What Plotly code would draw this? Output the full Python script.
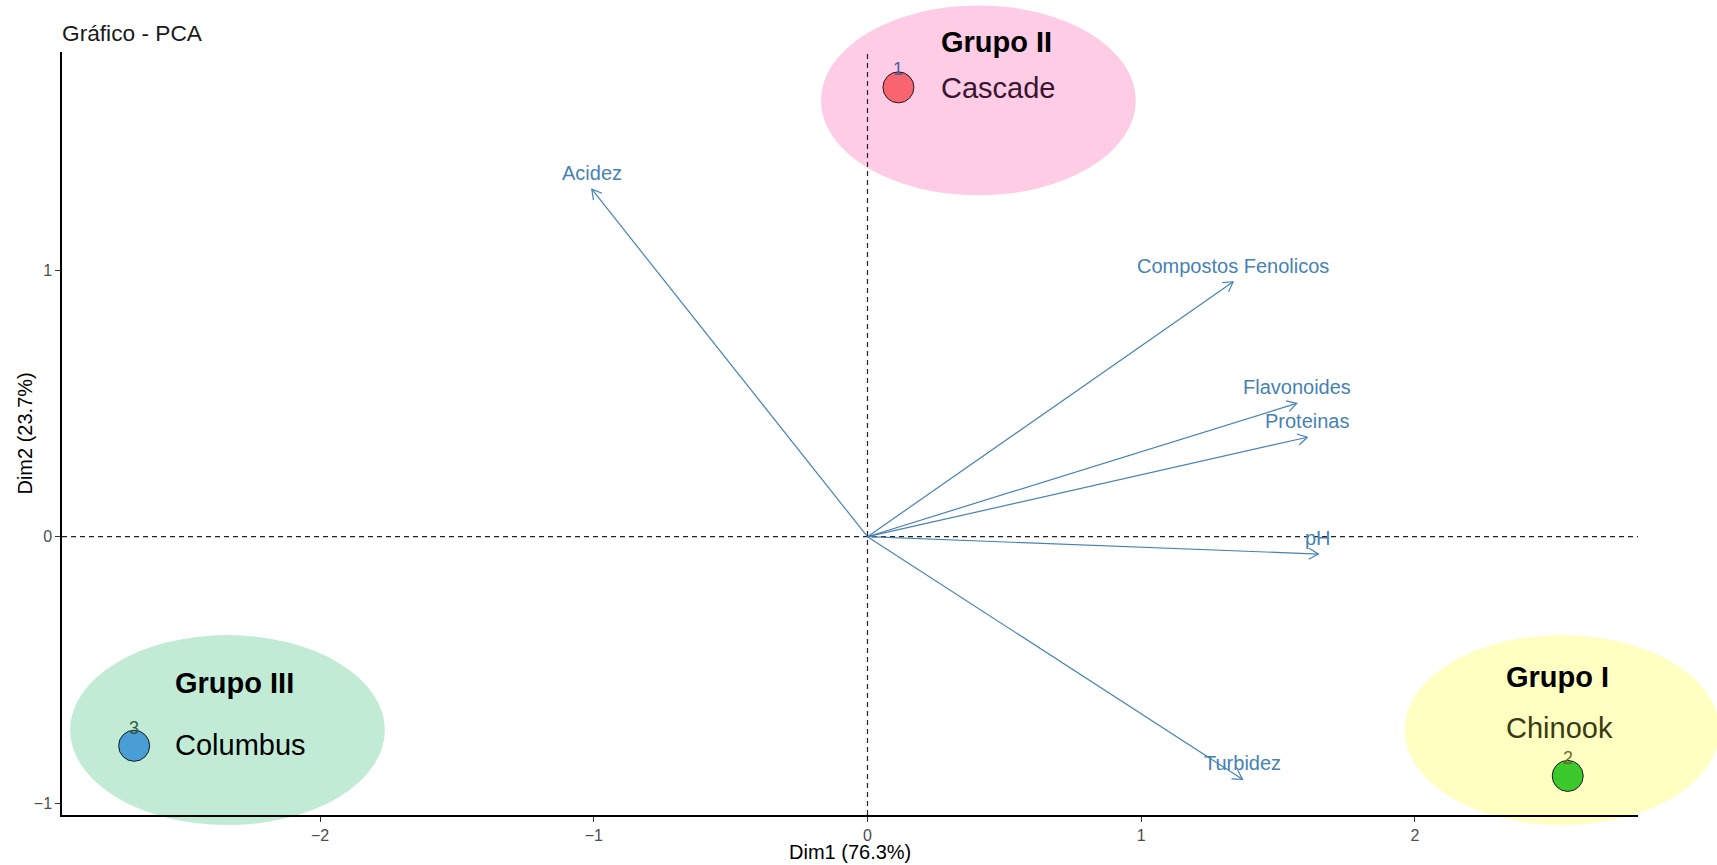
import math
import plotly.graph_objects as go

# --- PCA variable loadings (arrows) ---
variables = ["Acidez", "Compostos Fenolicos", "Flavonoides", "Proteinas", "pH", "Turbidez"]
var_dim1 = [-1.007, 1.336, 1.568, 1.607, 1.647, 1.370]
var_dim2 = [1.303, 0.956, 0.500, 0.373, -0.065, -0.910]

# --- individuals (scores) ---
ind_ids = ["1", "2", "3"]
ind_names = ["Cascade", "Chinook", "Columbus"]
ind_groups = ["Grupo II", "Grupo I", "Grupo III"]
ind_dim1 = [0.113, 2.558, -2.679]
ind_dim2 = [1.685, -0.897, -0.784]

xtick_vals = [-2, -1, 0, 1, 2]
ytick_vals = [-1, 0, 1]

# --- styling ---
FONT = "Liberation Sans, Arial, sans-serif"
ARROW_COLOR = "#4682B4"
ind_fill = ["#F8646F", "#3CC92C", "#4A9ED6"]
ind_label_color = ["#4a5fa0", "#6e6a30", "#2f5a45"]
name_color = ["#3a1530", "#3a3a10", "#000000"]
halo_color = ["#FFCCE5", "#FFFFC2", "#C2EBD6"]
# halo centre (data units) and label anchor (data units) per group
halo_center = [(0.405, 1.636), (2.537, -0.725), (-2.338, -0.725)]
halo_half = (0.575, 0.356)
group_anchor = [(0.260, 1.856, 1.6815), (2.325, -0.527, -0.716), (-2.538, -0.5497, -0.781)]

W, H = 1717, 865
M = dict(l=62, r=79, t=52, b=50)
X_RANGE = [-2.9425, 2.8147]
Y_RANGE = [-1.0436, 1.8176]
PW = W - M["l"] - M["r"]
PH = H - M["t"] - M["b"]
SX = PW / (X_RANGE[1] - X_RANGE[0])
SY = PH / (Y_RANGE[1] - Y_RANGE[0])


def px(x):
    return (x - X_RANGE[0]) / (X_RANGE[1] - X_RANGE[0])


def py(y):
    return (y - Y_RANGE[0]) / (Y_RANGE[1] - Y_RANGE[0])


fig = go.Figure()

# arrows from the origin with open chevron heads
head_len, head_ang = 11.0, math.radians(30)
for name, x, y in zip(variables, var_dim1, var_dim2):
    ang = math.atan2(y * SY, x * SX)
    xs, ys = [0, x], [0, y]
    hx, hy = [], []
    for s in (1, -1):
        a = ang + math.pi + s * head_ang
        hx.append(x + head_len * math.cos(a) / SX)
        hy.append(y + head_len * math.sin(a) / SY)
    fig.add_trace(go.Scatter(x=xs, y=ys, mode="lines",
                             line=dict(color=ARROW_COLOR, width=1.2),
                             hoverinfo="skip", showlegend=False))
    fig.add_trace(go.Scatter(x=[hx[0], x, hx[1]], y=[hy[0], y, hy[1]], mode="lines",
                             line=dict(color=ARROW_COLOR, width=1.2),
                             hoverinfo="skip", showlegend=False))
    fig.add_annotation(x=x, y=y, xref="x", yref="y", text=name, showarrow=False,
                       yshift=16, font=dict(family=FONT, size=20, color=ARROW_COLOR))

# individuals
fig.add_trace(go.Scatter(x=ind_dim1, y=ind_dim2, mode="markers",
                         marker=dict(size=31, color=ind_fill,
                                     line=dict(color="#1a1a1a", width=1)),
                         text=ind_names, hoverinfo="text", showlegend=False))
for i, (x, y) in enumerate(zip(ind_dim1, ind_dim2)):
    fig.add_annotation(x=x, y=y, xref="x", yref="y", text=ind_ids[i], showarrow=False,
                       yshift=18, font=dict(family=FONT, size=18, color=ind_label_color[i]))

# group halos and labels
shapes = []
for i in range(3):
    cx, cy = halo_center[i]
    shapes.append(dict(type="circle", xref="paper", yref="paper", layer="below",
                       x0=px(cx - halo_half[0]), x1=px(cx + halo_half[0]),
                       y0=py(cy - halo_half[1]), y1=py(cy + halo_half[1]),
                       fillcolor=halo_color[i], line=dict(width=0)))
    ax_, gy, ny = group_anchor[i]
    fig.add_annotation(x=px(ax_), y=py(gy), xref="paper", yref="paper",
                       xanchor="left", yanchor="middle", showarrow=False,
                       text="<b>%s</b>" % ind_groups[i],
                       font=dict(family=FONT, size=29, color="#000000"))
    fig.add_annotation(x=px(ax_), y=py(ny), xref="paper", yref="paper",
                       xanchor="left", yanchor="middle", showarrow=False,
                       text=ind_names[i],
                       font=dict(family=FONT, size=29, color=name_color[i]))

# dashed reference lines through the origin
shapes.append(dict(type="line", xref="x", yref="paper", x0=0, x1=0, y0=0, y1=1,
                   layer="below", line=dict(color="#222222", width=1.2, dash="5px,4px")))
shapes.append(dict(type="line", xref="paper", yref="y", x0=0, x1=1, y0=0, y1=0,
                   layer="below", line=dict(color="#222222", width=1.2, dash="5px,4px")))

# axis titles
fig.add_annotation(x=0.5, y=-0.048, xref="paper", yref="paper", showarrow=False,
                   text="Dim1 (76.3%)", yanchor="middle",
                   font=dict(family=FONT, size=20, color="#000000"))
fig.add_annotation(x=-0.0241, y=0.5, xref="paper", yref="paper", showarrow=False,
                   text="Dim2 (23.7%)", textangle=-90, xanchor="center",
                   font=dict(family=FONT, size=20, color="#000000"))

axis_common = dict(showgrid=False, zeroline=False, showline=True, linecolor="#000000",
                   linewidth=1.5, ticks="outside", ticklen=5, tickwidth=1.2,
                   tickcolor="#333333", tickfont=dict(family=FONT, size=16, color="#4d4d4d"))

fig.update_layout(
    width=W, height=H, margin=M,
    paper_bgcolor="white", plot_bgcolor="white",
    shapes=shapes,
    title=dict(text="Gráfico - PCA", x=M["l"] / W, xanchor="left", xref="container",
               y=1 - 33 / H, yanchor="middle", yref="container",
               font=dict(family=FONT, size=22.7, color="#1a1a1a")),
    xaxis=dict(range=X_RANGE, tickvals=xtick_vals, **axis_common),
    yaxis=dict(range=Y_RANGE, tickvals=ytick_vals, **axis_common),
    showlegend=False,
)

fig.write_html("out.html")
